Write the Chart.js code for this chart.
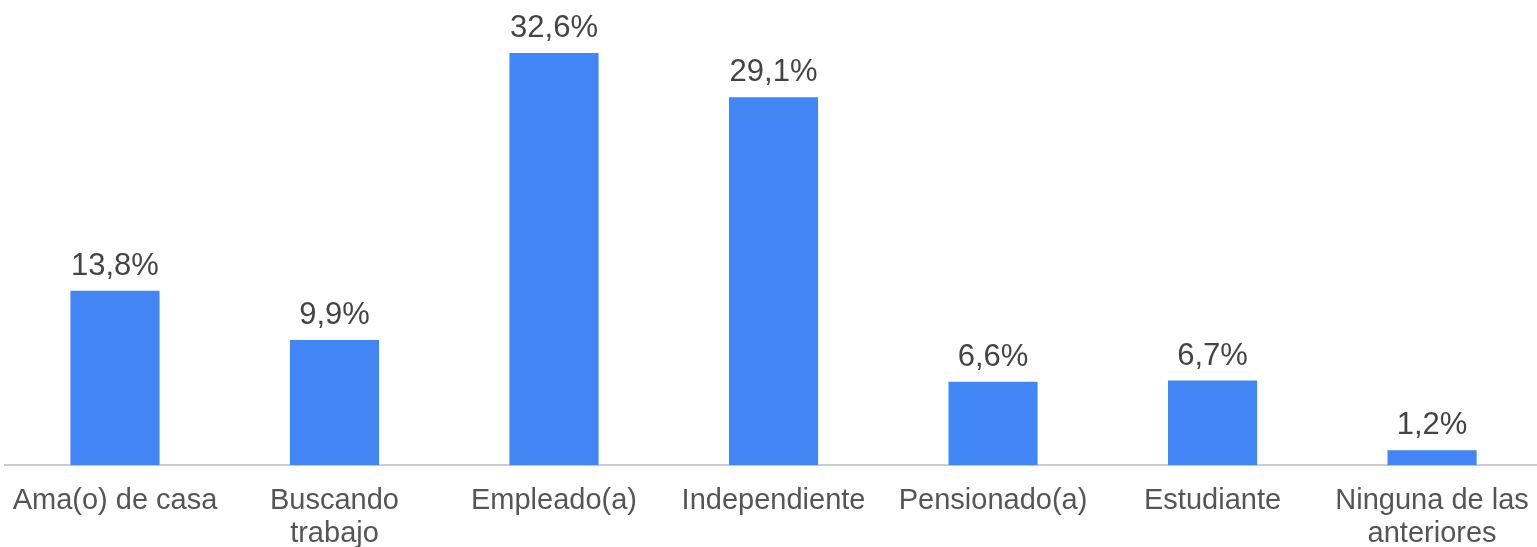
<!DOCTYPE html>
<html>
<head>
<meta charset="utf-8">
<script src="https://cdn.jsdelivr.net/npm/chart.js@4"></script>
<style>
  html, body { margin: 0; padding: 0; background: #fff; overflow: hidden; }
  #chart { display: block; margin-left: -6px; }
</style>
</head>
<body>
<canvas id="chart" width="1553" height="570"></canvas>
<script>
var categories = [
  'Ama(o) de casa',
  ['Buscando', 'trabajo'],
  'Empleado(a)',
  'Independiente',
  'Pensionado(a)',
  'Estudiante',
  ['Ninguna de las', 'anteriores']
];
var percentValues = [13.8, 9.9, 32.6, 29.1, 6.6, 6.7, 1.2];

var fontFamily = '"Liberation Sans", Arial, sans-serif';
var textColor = '#444444';

// draws "13,8%" style labels over each bar
var valueLabels = {
  id: 'valueLabels',
  afterDatasetsDraw: function (chart) {
    var ctx = chart.ctx;
    var meta = chart.getDatasetMeta(0);
    ctx.save();
    ctx.font = '31px ' + fontFamily;
    ctx.fillStyle = textColor;
    ctx.textAlign = 'center';
    ctx.textBaseline = 'alphabetic';
    meta.data.forEach(function (bar, i) {
      var txt = percentValues[i].toFixed(1).replace('.', ',') + '%';
      ctx.fillText(txt, bar.x, bar.y - 16);
    });
    ctx.restore();
  }
};

var ctx = document.getElementById('chart').getContext('2d');
var myChart = new Chart(ctx, {
  type: 'bar',
  data: {
    labels: categories,
    datasets: [{
      label: 'Porcentaje',
      data: percentValues,
      backgroundColor: '#4285F4',
      borderWidth: 0,
      barPercentage: 0.406,
      categoryPercentage: 1
    }]
  },
  options: {
    responsive: false,
    animation: false,
    layout: { padding: 0 },
    plugins: {
      legend: { display: false },
      tooltip: { enabled: false }
    },
    scales: {
      x: {
        grid: { display: false, drawTicks: false },
        border: { display: true, color: '#cccccc', width: 2 },
        ticks: {
          color: '#555555',
          padding: 19,
          maxRotation: 0,
          autoSkip: false,
          font: { family: fontFamily, size: 29, lineHeight: 1.15 }
        }
      },
      y: {
        display: false,
        min: 0,
        max: 36.8
      }
    }
  },
  plugins: [valueLabels]
});
</script>
</body>
</html>
